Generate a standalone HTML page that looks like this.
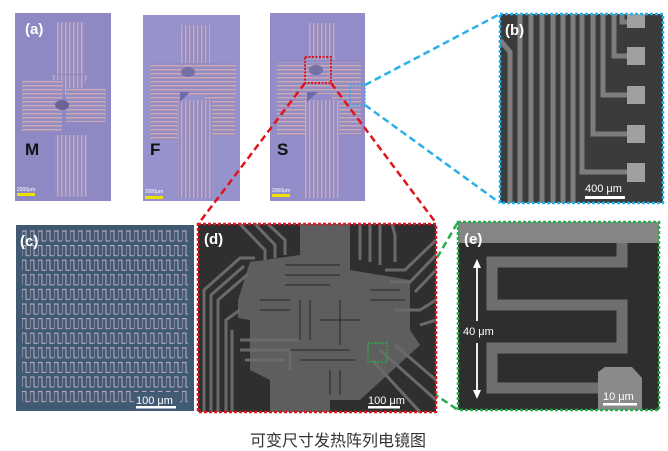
<!DOCTYPE html>
<html><head><meta charset="utf-8"><style>
html,body{margin:0;padding:0;background:#fff;width:668px;height:451px;overflow:hidden}
svg{display:block}
text{font-family:"Liberation Sans",Arial,sans-serif}
</style></head><body>
<svg width="668" height="451" viewBox="0 0 668 451" xmlns="http://www.w3.org/2000/svg">
<defs>
<pattern id="vs" width="4" height="4" patternUnits="userSpaceOnUse"><rect width="4" height="4" fill="#938dc6"/><rect x="1" width="1.4" height="4" fill="#d2a8b0"/></pattern>
<pattern id="hs" width="4" height="4" patternUnits="userSpaceOnUse"><rect width="4" height="4" fill="#938dc6"/><rect y="1" width="4" height="1.4" fill="#d2a8b0"/></pattern>
<pattern id="sq" x="22" y="229" width="8" height="14.6" patternUnits="userSpaceOnUse"><path d="M0,12 V2 H4 V12 H8" fill="none" stroke="#bfaebf" stroke-width="1"/></pattern>
</defs>

<!-- chip 1 -->
<rect x="15" y="13" width="96" height="188" fill="#8e89c3"/>
<rect x="57" y="22" width="28" height="52" fill="url(#vs)"/>
<polygon points="50,75 88,75 80,95 58,95" fill="url(#vs)"/>
<rect x="22" y="80" width="40" height="52" fill="url(#hs)"/>
<rect x="66" y="88" width="40" height="34" fill="url(#hs)"/>
<rect x="55" y="135" width="32" height="62" fill="url(#vs)"/>
<ellipse cx="62" cy="105" rx="7" ry="5" fill="#6a6499"/>
<text x="25" y="34" font-size="15" font-weight="bold" fill="#fff">(a)</text>
<text x="25" y="155" font-size="17" font-weight="bold" fill="#111">M</text>
<rect x="17" y="193" width="18" height="3" fill="#f0e000"/>
<text x="17" y="191" font-size="5" fill="#fff">2000μm</text>

<!-- chip 2 -->
<rect x="143" y="15" width="97" height="186" fill="#9692cc"/>
<rect x="180" y="25" width="30" height="38" fill="url(#vs)"/>
<rect x="150" y="63" width="86" height="32" fill="url(#hs)"/>
<rect x="150" y="95" width="30" height="45" fill="url(#hs)"/>
<rect x="205" y="95" width="30" height="40" fill="url(#hs)"/>
<rect x="178" y="100" width="34" height="98" fill="url(#vs)"/>
<ellipse cx="188" cy="72" rx="7" ry="5" fill="#7470a4"/>
<polygon points="180,92 190,92 180,102" fill="#6f69b0"/>
<text x="150" y="155" font-size="17" font-weight="bold" fill="#111">F</text>
<rect x="145" y="196" width="18" height="3" fill="#f0e000"/>
<text x="145" y="193" font-size="5" fill="#fff">2000μm</text>

<!-- chip 3 -->
<rect x="270" y="13" width="95" height="188" fill="#928dc8"/>
<rect x="307" y="23" width="30" height="37" fill="url(#vs)"/>
<rect x="277" y="62" width="84" height="32" fill="url(#hs)"/>
<rect x="277" y="94" width="30" height="42" fill="url(#hs)"/>
<rect x="332" y="94" width="29" height="40" fill="url(#hs)"/>
<rect x="305" y="100" width="34" height="98" fill="url(#vs)"/>
<ellipse cx="316" cy="70" rx="7" ry="5" fill="#7470a4"/>
<polygon points="307,92 318,92 307,102" fill="#6f69b0"/>
<text x="277" y="155" font-size="17" font-weight="bold" fill="#111">S</text>
<rect x="272" y="194" width="18" height="3" fill="#f0e000"/>
<text x="272" y="192" font-size="5" fill="#fff">2000μm</text>
<rect x="305" y="57" width="26" height="26" fill="none" stroke="#e0141c" stroke-width="2" stroke-dasharray="2,1.5"/>
<rect x="350" y="85" width="15" height="20" fill="none" stroke="#2ab0e8" stroke-width="1.5" stroke-dasharray="2,1.5"/>

<!-- connectors -->
<g fill="none" stroke-width="2.5" stroke-dasharray="7,4">
<line x1="305" y1="83" x2="199" y2="223" stroke="#e0141c"/>
<line x1="331" y1="83" x2="436" y2="223" stroke="#e0141c"/>
<line x1="365" y1="85" x2="500" y2="14" stroke="#2ab0e8"/>
<line x1="365" y1="105" x2="500" y2="203" stroke="#2ab0e8"/>
<line x1="387" y1="343" x2="458" y2="222" stroke="#2aaa4a"/>
<line x1="387" y1="362" x2="458" y2="410" stroke="#2aaa4a"/>
</g>

<!-- (b) -->
<rect x="500" y="14" width="163" height="189" fill="#3b3b3b"/>
<g stroke="#7d7d7d" stroke-width="5" fill="none">
<path d="M500,40 L510,52 V203"/>
<path d="M520,14 V203"/><path d="M531,14 V203"/><path d="M542,14 V203"/>
<path d="M553,14 V203"/><path d="M563,14 V203"/><path d="M573,14 V203"/>
<path d="M582,14 V172 H630"/><path d="M593,14 V134 H630"/><path d="M603,14 V95 H630"/>
<path d="M614,14 V56 H630"/><path d="M622,14 V22 H630"/>
</g>
<g fill="#a0a0a0">
<rect x="627" y="14" width="18" height="14"/><rect x="627" y="47" width="18" height="18"/>
<rect x="627" y="86" width="18" height="18"/><rect x="627" y="125" width="18" height="18"/>
<rect x="627" y="163" width="18" height="19"/>
</g>
<text x="505" y="35" font-size="15" font-weight="bold" fill="#fff">(b)</text>
<text x="585" y="192" font-size="11" fill="#fff">400 μm</text>
<rect x="585" y="196" width="40" height="3" fill="#fff"/>
<rect x="500" y="14" width="163" height="189" fill="none" stroke="#2ab0e8" stroke-width="2.5" stroke-dasharray="3,2"/>

<!-- (c) -->
<rect x="16" y="225" width="178" height="186" fill="#405a74"/>
<rect x="22" y="229" width="166" height="176" fill="url(#sq)"/>
<text x="20" y="246" font-size="15" font-weight="bold" fill="#fff">(c)</text>
<rect x="134" y="392" width="46" height="18" fill="#405a74"/>
<text x="136" y="404" font-size="11" fill="#fff">100 μm</text>
<rect x="136" y="406" width="40" height="2.5" fill="#fff"/>

<!-- (d) -->
<rect x="198" y="224" width="238" height="188" fill="#2f2f2f"/>
<polygon points="250,262 300,255 300,224 350,224 350,270 410,280 410,330 420,345 360,400 330,400 330,412 270,412 270,380 250,370 250,320 238,318 238,300" fill="#5e5e5e"/>
<g stroke="#6a6a6a" stroke-width="3" fill="none">
<path d="M204,412 V290 L240,258 H255"/><path d="M211,412 V295 L244,266"/><path d="M218,412 V300 L248,274"/>
<path d="M226,412 V320 L240,310"/><path d="M232,412 V330"/>
<path d="M240,224 L265,250 V260"/><path d="M255,224 L275,245 V258"/><path d="M268,224 L285,240 V255"/>
<path d="M360,224 V260"/><path d="M370,224 V262"/><path d="M380,224 V265"/><path d="M392,224 L395,235 V262"/>
<path d="M436,240 L405,270 H385"/><path d="M436,255 L410,282 H390"/><path d="M436,270 L415,292"/>
<path d="M436,300 L420,310 H395"/><path d="M436,320 L420,325"/>
<path d="M380,350 L436,400"/><path d="M372,360 L420,412"/><path d="M395,345 L436,380"/>
<path d="M240,340 H300"/><path d="M240,350 H290 V370"/><path d="M245,360 H285"/>
</g>
<g stroke="#262626" stroke-width="1" fill="none">
<path d="M285,265 H340 M285,275 H340 M285,285 H330 M300,300 V340 M310,300 V340 M340,300 V345 M290,350 H350 M300,360 H355 M370,290 H400 M370,300 H405 M320,320 H360 M260,300 H290 M260,310 H290 M330,370 V395 M340,370 V395"/>
</g>
<text x="204" y="244" font-size="15" font-weight="bold" fill="#fff">(d)</text>
<text x="368" y="404" font-size="11" fill="#fff">100 μm</text>
<rect x="368" y="406" width="32" height="2.5" fill="#fff"/>
<rect x="368" y="343" width="19" height="19" fill="none" stroke="#2aaa4a" stroke-width="1.5" stroke-dasharray="2,1.5"/>
<rect x="198" y="224" width="238" height="188" fill="none" stroke="#e0141c" stroke-width="2.5" stroke-dasharray="3,2"/>

<!-- (e) -->
<rect x="458" y="222" width="201" height="188" fill="#2e2e2e"/>
<rect x="458" y="222" width="201" height="21" fill="#858585"/>
<path d="M622,243 V262 H492 V305 H622 V348 H492 V388 H600" fill="none" stroke="#6f6f6f" stroke-width="11"/>
<path d="M598,410 V372 L605,367 H632 L642,378 V410 Z" fill="#8a8a8a"/>
<text x="464" y="244" font-size="15" font-weight="bold" fill="#fff">(e)</text>
<g stroke="#fff" stroke-width="1.8" fill="#fff">
<line x1="477" y1="265" x2="477" y2="321"/><polygon points="473,268 477,259 481,268" stroke="none"/>
<line x1="477" y1="343" x2="477" y2="393"/><polygon points="473,390 477,399 481,390" stroke="none"/>
</g>
<text x="463" y="335" font-size="11" fill="#fff">40 μm</text>
<text x="603" y="400" font-size="11" fill="#fff">10 μm</text>
<rect x="603" y="403" width="34" height="2.5" fill="#fff"/>
<rect x="458" y="222" width="201" height="188" fill="none" stroke="#2aaa4a" stroke-width="2.5" stroke-dasharray="3,2"/>

<text x="338" y="446" font-size="16" fill="#333" text-anchor="middle" style='font-family:"Liberation Sans","Noto Sans CJK SC",sans-serif'>可变尺寸发热阵列电镜图</text>
</svg>
</body></html>
